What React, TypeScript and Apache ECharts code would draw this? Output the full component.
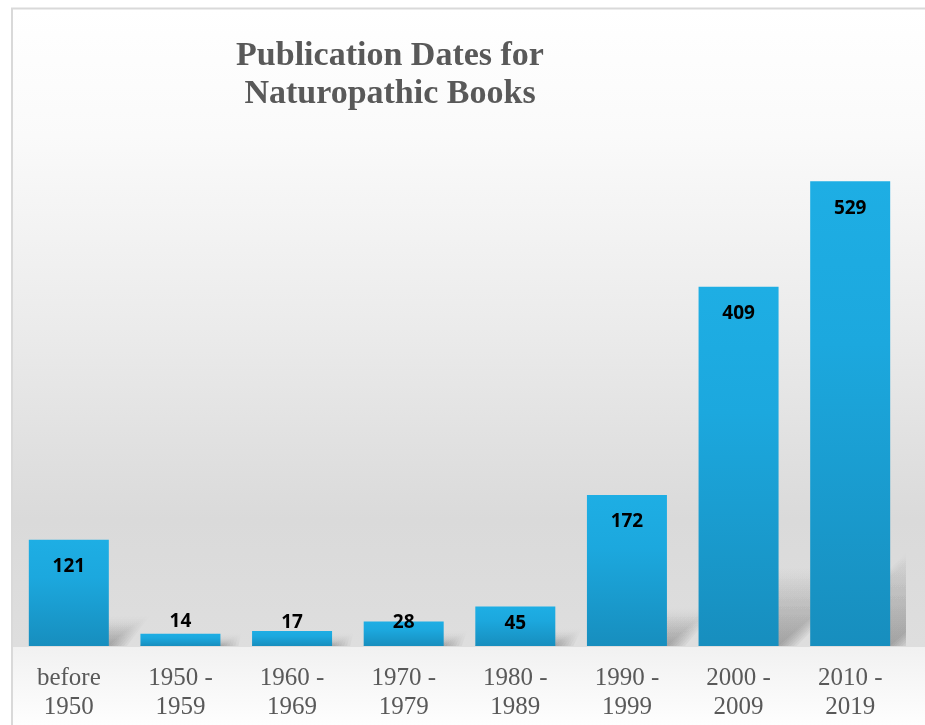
import React, { useEffect, useRef } from "react";
import * as echarts from "echarts";

const categories = [
  "before\n1950",
  "1950 -\n1959",
  "1960 -\n1969",
  "1970 -\n1979",
  "1980 -\n1989",
  "1990 -\n1999",
  "2000 -\n2009",
  "2010 -\n2019",
];
const counts = [121, 14, 17, 28, 45, 172, 409, 529];
const titleLines = ["Publication Dates for", "Naturopathic Books"];

// label placement styling (per bar)
const labelPlacements = ["insideTop", "top", "top", "top", "insideTop", "insideTop", "insideTop", "insideTop"];
const labelDistances = [16, 4, 1, -9, 6, 16, 16, 16];

export default function App() {
  const ref = useRef<HTMLDivElement>(null);
  useEffect(() => {
    if (!ref.current) return;
    const chart = echarts.init(ref.current, null, { renderer: "svg" });

    const shadowRender = (params: any, api: any) => {
      const idx = api.value(0);
      const v = api.value(1);
      const base = api.coord([idx, 0]);
      const top = api.coord([idx, v]);
      const half = 40;
      const x0 = base[0] - half;
      const x1 = base[0] + half;
      const by = base[1];
      const h = by - top[1];
      const kh = h * 0.2;
      const dx = kh * 1.15;
      const children: any[] = [];
      for (let i = 0; i < 7; i++) {
        const e = i * 3;
        children.push({
          type: "polygon",
          shape: {
            points: [
              [x0, by],
              [x1 + e, by],
              [x1 + dx + e, by - kh - e * 0.6],
              [x0 + dx, by - kh - e * 0.6],
            ],
          },
          style: {
            fill: {
              type: "linear",
              x: 0,
              y: 1,
              x2: 0,
              y2: 0,
              colorStops: [
                { offset: 0, color: "rgba(0,0,0,0.045)" },
                { offset: 1, color: "rgba(0,0,0,0.0)" },
              ],
            },
          },
        });
      }
      return { type: "group", children };
    };

    const option: any = {
      animation: false,
      grid: { left: 13, right: 19, top: 119, bottom: 79 },
      graphic: [
        {
          type: "rect",
          z: -10,
          silent: true,
          shape: { x: 12, y: 9, width: 913, height: 638 },
          style: {
            fill: {
              type: "linear",
              x: 0,
              y: 0,
              x2: 0,
              y2: 1,
              colorStops: [
                { offset: 0, color: "#ffffff" },
                { offset: 0.2, color: "#fafafa" },
                { offset: 0.5, color: "#ebebeb" },
                { offset: 0.8, color: "#dadada" },
                { offset: 1, color: "#dedede" },
              ],
            },
          },
        },
        {
          type: "rect",
          z: -10,
          silent: true,
          shape: { x: 12, y: 647, width: 913, height: 78 },
          style: {
            fill: {
              type: "linear",
              x: 0,
              y: 0,
              x2: 0,
              y2: 1,
              colorStops: [
                { offset: 0, color: "#f1f1f1" },
                { offset: 1, color: "#fefefe" },
              ],
            },
          },
        },
        {
          type: "line",
          z: -5,
          silent: true,
          shape: { x1: 11, y1: 8.5, x2: 925, y2: 8.5 },
          style: { stroke: "#d9d9d9", lineWidth: 2 },
        },
        {
          type: "line",
          z: -5,
          silent: true,
          shape: { x1: 12, y1: 8, x2: 12, y2: 725 },
          style: { stroke: "#d9d9d9", lineWidth: 2 },
        },
        {
          type: "text",
          z: 10,
          x: 390,
          y: 34,
          style: {
            text: titleLines.join("\n"),
            font: 'bold 34px "Liberation Serif"',
            fill: "#595959",
            textAlign: "center",
            textVerticalAlign: "top",
            lineHeight: 38,
          },
        },
      ],
      xAxis: {
        type: "category",
        data: categories,
        axisLine: { show: false },
        axisTick: { show: false },
        axisLabel: {
          interval: 0,
          margin: 16,
          color: "#595959",
          fontFamily: "Liberation Serif",
          fontSize: 25,
          lineHeight: 29,
        },
        splitLine: { show: false },
      },
      yAxis: {
        type: "value",
        min: 0,
        max: 600,
        show: false,
        splitLine: { show: false },
      },
      series: [
        {
          type: "custom",
          z: 1,
          clip: true,
          silent: true,
          renderItem: shadowRender,
          data: counts.map((v, i) => [i, v]),
          encode: { x: 0, y: 1 },
        },
        {
          type: "bar",
          z: 2,
          barWidth: 80,
          itemStyle: {
            color: {
              type: "linear",
              x: 0,
              y: 0,
              x2: 0,
              y2: 1,
              colorStops: [
                { offset: 0, color: "#1eaee4" },
                { offset: 0.35, color: "#1ca8de" },
                { offset: 1, color: "#178ebe" },
              ],
            },
          },
          label: {
            show: true,
            color: "#000000",
            fontFamily: "Open Sans",
            fontWeight: "bold",
            fontSize: 19,
          },
          data: counts.map((v, i) => ({
            value: v,
            label: { position: labelPlacements[i], distance: labelDistances[i] },
          })),
        },
      ],
    };
    chart.setOption(option);
    return () => chart.dispose();
  }, []);
  return (
    <div
      ref={ref}
      style={{ position: "fixed", left: 0, top: 0, width: 925, height: 725 }}
    />
  );
}
